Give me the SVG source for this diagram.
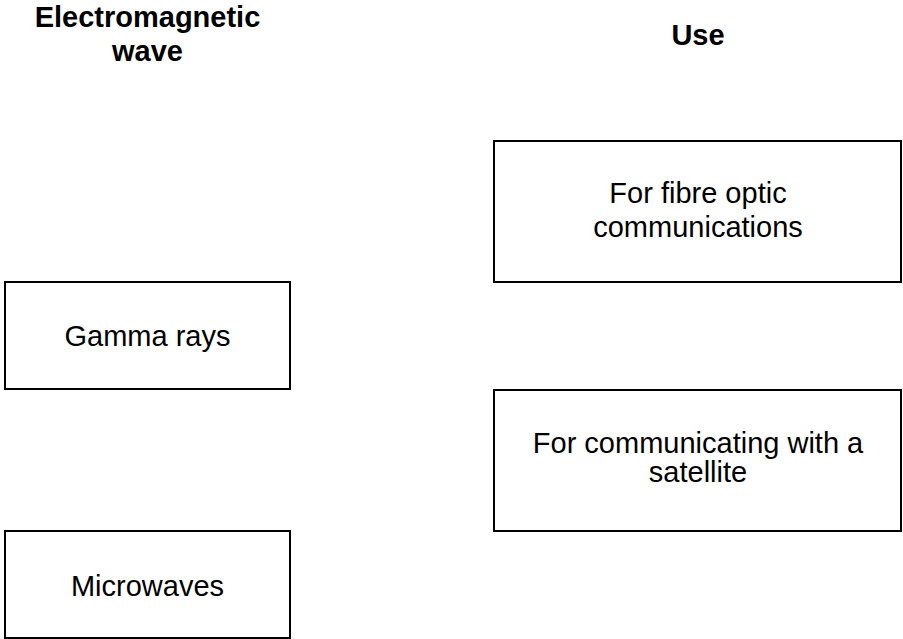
<svg xmlns="http://www.w3.org/2000/svg" width="903" height="639" viewBox="0 0 903 639">
<style>
.box{fill:#fff;stroke:#000;stroke-width:2}
.t{font-family:"Liberation Sans",Arial,sans-serif;font-size:29px;text-anchor:middle;fill:#000}
.h{font-weight:bold}
</style>
<rect width="903" height="639" fill="#fff"/>
<g id="header-wave"><text class="t h" x="147.5" y="27">Electromagnetic</text><text class="t h" x="147.5" y="61">wave</text></g>
<g id="header-use"><text class="t h" x="698" y="45">Use</text></g>
<g id="fibre"><rect class="box" x="494" y="141" width="407" height="141"/><text class="t" x="698" y="203">For fibre optic</text><text class="t" x="698" y="237">communications</text></g>
<g id="gamma"><rect class="box" x="5" y="282" width="285" height="107"/><text class="t" x="147.5" y="346">Gamma rays</text></g>
<g id="satellite"><rect class="box" x="494" y="390" width="407" height="141"/><text class="t" x="698" y="453">For communicating with a</text><text class="t" x="698" y="482">satellite</text></g>
<g id="microwaves"><rect class="box" x="5" y="531" width="285" height="107"/><text class="t" x="147.5" y="596">Microwaves</text></g>
<g id="connectors"/>
</svg>
